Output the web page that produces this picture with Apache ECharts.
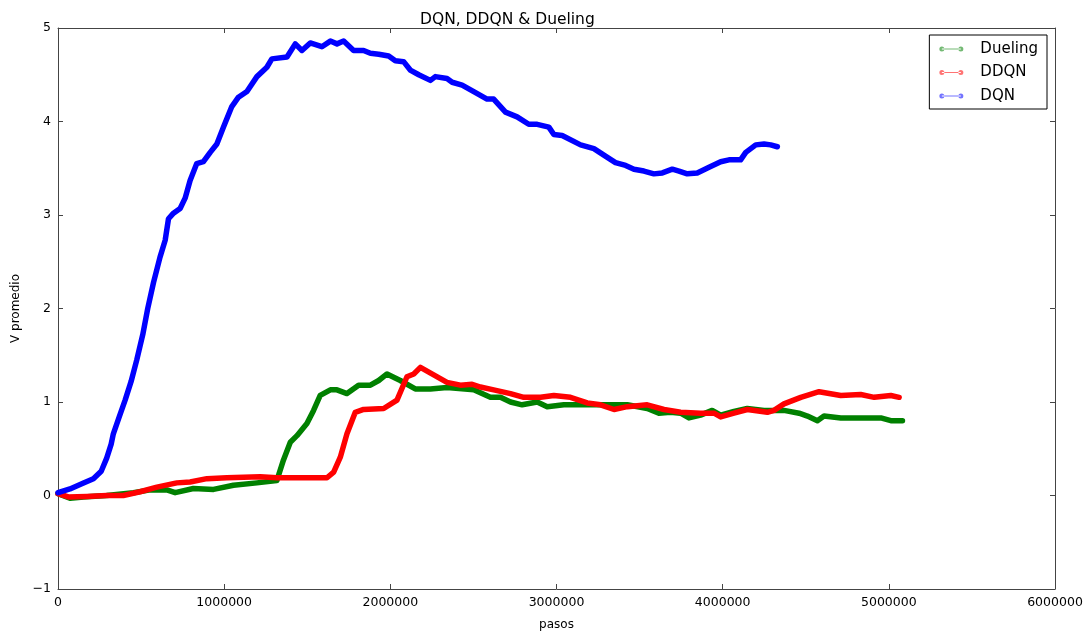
<!DOCTYPE html>
<html>
<head>
<meta charset="utf-8">
<script src="https://cdn.jsdelivr.net/npm/echarts@6/dist/echarts.min.js"></script>
<style>
  html, body { margin: 0; padding: 0; background: #fff; }
  #chart { width: 1090px; height: 637px; }
</style>
</head>
<body>
<div id="chart"></div>
<script>
// Values (steps, mean V).
const X_TICKS = [0, 1000000, 2000000, 3000000, 4000000, 5000000, 6000000];
const Y_TICKS = [-1, 0, 1, 2, 3, 4, 5];

const duelingSteps = [0, 72e3, 153e3, 293e3, 454e3, 554e3, 655e3, 705e3, 815e3, 936e3, 1056e3, 1197e3, 1317e3,
  1357e3, 1398e3, 1438e3, 1498e3, 1538e3, 1578e3, 1639e3, 1679e3, 1739e3, 1809e3, 1880e3, 1930e3, 1980e3,
  2060e3, 2150e3, 2241e3, 2341e3, 2502e3, 2602e3, 2663e3, 2723e3, 2793e3, 2884e3, 2944e3, 3044e3, 3145e3,
  3245e3, 3325e3, 3426e3, 3546e3, 3616e3, 3687e3, 3747e3, 3797e3, 3867e3, 3937e3, 3988e3, 4068e3, 4148e3,
  4249e3, 4369e3, 4460e3, 4510e3, 4570e3, 4610e3, 4711e3, 4811e3, 4952e3, 5012e3, 5082e3];
const duelingV = [0.02, -0.03, -0.015, 0.0, 0.03, 0.06, 0.06, 0.03, 0.075, 0.065, 0.11, 0.135, 0.16,
  0.38, 0.57, 0.64, 0.77, 0.91, 1.07, 1.13, 1.13, 1.09, 1.18, 1.18, 1.23, 1.30,
  1.23, 1.14, 1.14, 1.155, 1.13, 1.05, 1.05, 1.00, 0.97, 1.00, 0.95, 0.97, 0.97,
  0.97, 0.97, 0.97, 0.93, 0.88, 0.89, 0.88, 0.83, 0.86, 0.91, 0.86, 0.90, 0.93,
  0.91, 0.91, 0.88, 0.85, 0.80, 0.85, 0.83, 0.83, 0.83, 0.80, 0.80];

const ddqnSteps = [0, 62e3, 173e3, 293e3, 393e3, 494e3, 595e3, 715e3, 795e3, 896e3, 1016e3, 1217e3, 1317e3,
  1458e3, 1619e3, 1659e3, 1699e3, 1739e3, 1789e3, 1839e3, 1960e3, 2040e3, 2100e3, 2141e3, 2181e3, 2261e3,
  2341e3, 2422e3, 2492e3, 2542e3, 2622e3, 2723e3, 2803e3, 2904e3, 2984e3, 3084e3, 3185e3, 3265e3, 3346e3,
  3426e3, 3546e3, 3647e3, 3747e3, 3867e3, 3948e3, 3988e3, 4068e3, 4148e3, 4269e3, 4309e3, 4369e3, 4470e3,
  4580e3, 4711e3, 4831e3, 4912e3, 5012e3, 5062e3];
const ddqnV = [0.02, -0.015, -0.01, 0.0, 0.0, 0.04, 0.09, 0.135, 0.145, 0.18, 0.19, 0.20, 0.19,
  0.19, 0.19, 0.25, 0.41, 0.66, 0.89, 0.92, 0.93, 1.02, 1.27, 1.30, 1.37, 1.29,
  1.21, 1.18, 1.19, 1.16, 1.13, 1.09, 1.05, 1.05, 1.07, 1.05, 0.99, 0.97, 0.92,
  0.95, 0.97, 0.92, 0.89, 0.88, 0.88, 0.84, 0.88, 0.92, 0.89, 0.91, 0.98, 1.05,
  1.11, 1.07, 1.08, 1.05, 1.07, 1.05];

const dqnSteps = [0, 72e3, 150e3, 213e3, 260e3, 293e3, 320e3, 333e3, 370e3, 404e3, 440e3, 474e3, 510e3,
  540e3, 575e3, 614e3, 645e3, 665e3, 695e3, 735e3, 765e3, 795e3, 835e3, 875e3, 916e3, 956e3, 996e3,
  1046e3, 1086e3, 1137e3, 1197e3, 1257e3, 1287e3, 1378e3, 1428e3, 1468e3, 1518e3, 1588e3, 1639e3, 1679e3,
  1719e3, 1779e3, 1839e3, 1880e3, 1930e3, 1990e3, 2030e3, 2080e3, 2120e3, 2171e3, 2241e3, 2271e3, 2341e3,
  2372e3, 2432e3, 2502e3, 2582e3, 2622e3, 2693e3, 2763e3, 2833e3, 2884e3, 2954e3, 2984e3, 3034e3, 3145e3,
  3225e3, 3285e3, 3355e3, 3416e3, 3466e3, 3526e3, 3586e3, 3637e3, 3697e3, 3737e3, 3787e3, 3847e3, 3918e3,
  3988e3, 4038e3, 4108e3, 4139e3, 4199e3, 4249e3, 4289e3, 4329e3];
const dqnV = [0.03, 0.07, 0.13, 0.18, 0.26, 0.40, 0.55, 0.66, 0.85, 1.02, 1.22, 1.45, 1.72,
  2.00, 2.28, 2.55, 2.73, 2.96, 3.02, 3.07, 3.18, 3.37, 3.55, 3.57, 3.67, 3.76, 3.94,
  4.16, 4.26, 4.32, 4.48, 4.58, 4.67, 4.69, 4.83, 4.76, 4.84, 4.80, 4.86, 4.83,
  4.86, 4.76, 4.76, 4.73, 4.72, 4.70, 4.65, 4.64, 4.55, 4.50, 4.44, 4.48, 4.46,
  4.42, 4.39, 4.32, 4.24, 4.24, 4.10, 4.05, 3.97, 3.97, 3.94, 3.86, 3.85, 3.75,
  3.71, 3.64, 3.56, 3.53, 3.49, 3.47, 3.44, 3.45, 3.49, 3.47, 3.44, 3.45, 3.51,
  3.57, 3.59, 3.59, 3.67, 3.75, 3.76, 3.75, 3.73];

const FONT = "DejaVu Sans";
const FRAME = "#444";
// legend swatch: a thin line with a dot at each end, like matplotlib's
const LEGEND_ICON = "path://M0,2.5a2.5,2.5 0 1,0 5,0a2.5,2.5 0 1,0 -5,0z" +
  "M2.5,2h19v1h-19z" +
  "M19,2.5a2.5,2.5 0 1,0 5,0a2.5,2.5 0 1,0 -5,0z";

const zip = (xs, ys) => xs.map((x, i) => [x, ys[i]]);
const minus = (v) => (v < 0 ? "\u2212" + -v : String(v));

function line(name, color, xs, ys) {
  return {
    name,
    type: "line",
    color,
    showSymbol: false,
    symbol: "circle",
    lineStyle: { width: 5.5, color, join: "round", cap: "round" },
    itemStyle: { color, borderWidth: 0 },
    data: zip(xs, ys),
  };
}

const frameAxis = (extra) => ({
  type: "value",
  axisLine: { show: true, onZero: false, lineStyle: { color: FRAME, width: 1 } },
  axisTick: { show: true, inside: true, length: 5, lineStyle: { color: FRAME } },
  splitLine: { show: false },
  ...extra,
});

const chart = echarts.init(document.getElementById("chart"));
chart.setOption({
  animation: false,
  backgroundColor: "#fff",
  textStyle: { fontFamily: FONT },
  title: {
    text: "DQN, DDQN & Dueling",
    left: 415,
    top: 7,
    textStyle: { fontFamily: FONT, fontSize: 15.5, fontWeight: "normal", color: "#000" },
  },
  grid: { left: 58, right: 35, top: 28, bottom: 48 },
  legend: {
    orient: "vertical",
    right: 43,
    top: 35,
    padding: [6, 9, 5, 10],
    itemGap: 7.5,
    itemWidth: 24,
    itemHeight: 5,
    icon: LEGEND_ICON,
    backgroundColor: "#fff",
    borderColor: "#000",
    borderWidth: 1,
    borderRadius: 0,
    itemStyle: { opacity: 0.55, borderWidth: 0 },
    textStyle: { fontFamily: FONT, fontSize: 15, lineHeight: 16, color: "#000", padding: [0, 0, 0, 12] },
    data: ["Dueling", "DDQN", "DQN"],
  },
  xAxis: [
    frameAxis({
      min: X_TICKS[0],
      max: X_TICKS[X_TICKS.length - 1],
      interval: X_TICKS[1] - X_TICKS[0],
      name: "pasos",
      nameLocation: "middle",
      nameGap: 30,
      nameTextStyle: { fontFamily: FONT, fontSize: 12, color: "#000" },
      axisLabel: { fontFamily: FONT, fontSize: 12.5, color: "#000", margin: 7, formatter: (v) => String(v) },
    }),
    frameAxis({
      position: "top",
      min: X_TICKS[0],
      max: X_TICKS[X_TICKS.length - 1],
      interval: X_TICKS[1] - X_TICKS[0],
      axisLabel: { show: false },
    }),
  ],
  yAxis: [
    frameAxis({
      min: Y_TICKS[0],
      max: Y_TICKS[Y_TICKS.length - 1],
      interval: Y_TICKS[1] - Y_TICKS[0],
      name: "V promedio",
      nameLocation: "middle",
      nameGap: 35,
      nameTextStyle: { fontFamily: FONT, fontSize: 12, color: "#000" },
      axisLabel: { fontFamily: FONT, fontSize: 12.5, color: "#000", margin: 7, formatter: minus },
    }),
    frameAxis({
      position: "right",
      min: Y_TICKS[0],
      max: Y_TICKS[Y_TICKS.length - 1],
      interval: Y_TICKS[1] - Y_TICKS[0],
      axisLabel: { show: false },
    }),
  ],
  series: [
    line("Dueling", "#008000", duelingSteps, duelingV),
    line("DDQN", "#ff0000", ddqnSteps, ddqnV),
    line("DQN", "#0000ff", dqnSteps, dqnV),
  ],
});
window.addEventListener("resize", () => chart.resize());
</script>
</body>
</html>
